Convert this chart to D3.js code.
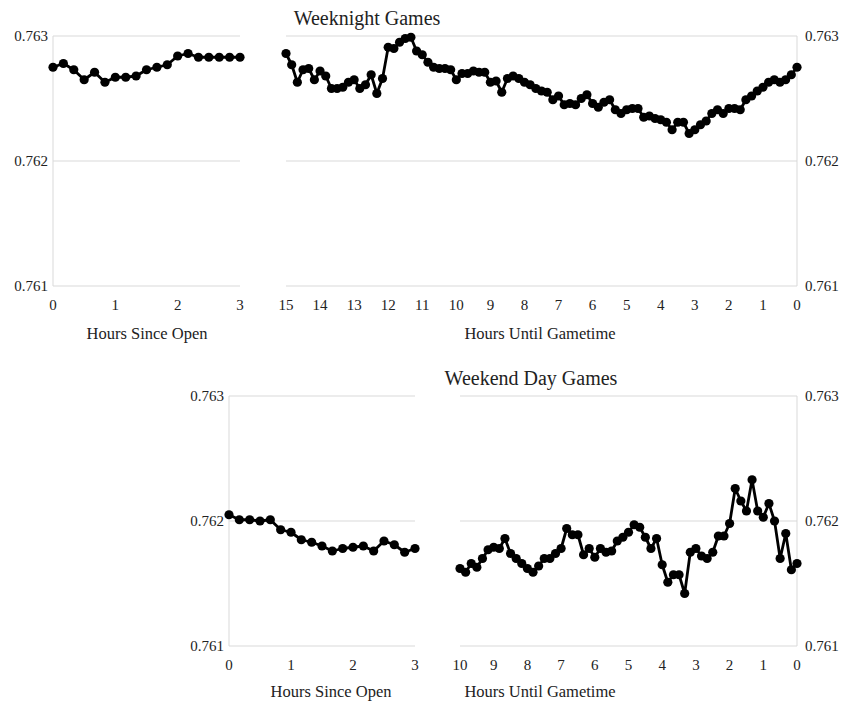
<!DOCTYPE html>
<html>
<head>
<meta charset="utf-8">
<script src="https://cdn.jsdelivr.net/npm/d3@7"></script>
<style>
  html, body { margin: 0; padding: 0; background: #fff; }
  svg text { font-family: "Liberation Serif", "Times New Roman", serif; fill: #222; }
</style>
</head>
<body>
<svg id="chart" width="846" height="702"></svg>
<script>
// ---- Data -------------------------------------------------------------
// Win-probability-style metric sampled every 10 minutes.
const yTicks = [0.761, 0.762, 0.763];

// Weeknight games
const weeknightOpenHours = d3.range(19).map(i => i / 6);          // 0 .. 3 h
const weeknightOpenValues = [
  0.76275, 0.76278, 0.76273, 0.76265, 0.76271, 0.76263, 0.76267, 0.76267,
  0.76268, 0.76273, 0.76275, 0.76277, 0.76284, 0.76286, 0.76283, 0.76283,
  0.76283, 0.76283, 0.76283
];
const weeknightGameHours = d3.range(91).map(i => 15 - i / 6);     // 15 .. 0 h
const weeknightGameValues = [
  0.76286, 0.76277, 0.76263, 0.76273, 0.76274, 0.76265, 0.76272, 0.76268,
  0.76258, 0.76258, 0.76259, 0.76263, 0.76265, 0.76258, 0.76261, 0.76269,
  0.76254, 0.76266, 0.76291, 0.76290, 0.76295, 0.76298, 0.76299, 0.76288,
  0.76285, 0.76279, 0.76275, 0.76274, 0.76274, 0.76273, 0.76265, 0.76270,
  0.76270, 0.76272, 0.76271, 0.76271, 0.76263, 0.76264, 0.76255, 0.76266,
  0.76268, 0.76266, 0.76263, 0.76261, 0.76258, 0.76256, 0.76255, 0.76249,
  0.76252, 0.76245, 0.76246, 0.76245, 0.76250, 0.76253, 0.76246, 0.76243,
  0.76247, 0.76249, 0.76241, 0.76238, 0.76241, 0.76242, 0.76242, 0.76235,
  0.76236, 0.76234, 0.76233, 0.76231, 0.76225, 0.76231, 0.76231, 0.76222,
  0.76225, 0.76229, 0.76232, 0.76238, 0.76241, 0.76238, 0.76242, 0.76242,
  0.76241, 0.76249, 0.76252, 0.76256, 0.76259, 0.76263, 0.76265, 0.76263,
  0.76265, 0.76269, 0.76275
];

// Weekend day games
const weekendOpenHours = d3.range(19).map(i => i / 6);            // 0 .. 3 h
const weekendOpenValues = [
  0.76205, 0.76201, 0.76201, 0.76200, 0.76201, 0.76193, 0.76191, 0.76185,
  0.76183, 0.76180, 0.76176, 0.76178, 0.76179, 0.76180, 0.76176, 0.76184,
  0.76181, 0.76175, 0.76178
];
const weekendGameHours = d3.range(61).map(i => 10 - i / 6);       // 10 .. 0 h
const weekendGameValues = [
  0.76162, 0.76159, 0.76166, 0.76163, 0.76170, 0.76177, 0.76179, 0.76178,
  0.76186, 0.76174, 0.76170, 0.76166, 0.76162, 0.76159, 0.76164, 0.76170,
  0.76170, 0.76174, 0.76178, 0.76194, 0.76189, 0.76189, 0.76173, 0.76178,
  0.76171, 0.76178, 0.76175, 0.76176, 0.76184, 0.76187, 0.76191, 0.76197,
  0.76195, 0.76187, 0.76178, 0.76186, 0.76165, 0.76151, 0.76157, 0.76157,
  0.76142, 0.76175, 0.76178, 0.76172, 0.76170, 0.76175, 0.76188, 0.76188,
  0.76198, 0.76226, 0.76216, 0.76208, 0.76233, 0.76208, 0.76203, 0.76214,
  0.76200, 0.76170, 0.76190, 0.76161, 0.76166
];

const openTicks = [0, 1, 2, 3];
const weeknightGameTicks = d3.range(15, -1, -1);
const weekendGameTicks = d3.range(10, -1, -1);

// ---- Drawing ----------------------------------------------------------
const svg = d3.select("#chart");
const GRID = "#d9d9d9";

function drawPanel({ x0, x1, yTop, yBottom, domainX, ticksX, hours, values,
                     axisSide, labelSide }) {
  const x = d3.scaleLinear().domain(domainX).range([x0, x1]);
  const y = d3.scaleLinear().domain([0.761, 0.763]).range([yBottom, yTop]);
  const g = svg.append("g");

  // horizontal gridlines
  g.selectAll("line.grid").data(yTicks).join("line")
    .attr("x1", x0).attr("x2", x1)
    .attr("y1", d => y(d)).attr("y2", d => y(d))
    .attr("stroke", GRID).attr("stroke-width", 1);

  // vertical axis line
  const ax = axisSide === "left" ? x0 : x1;
  g.append("line")
    .attr("x1", ax).attr("x2", ax)
    .attr("y1", yTop).attr("y2", yBottom)
    .attr("stroke", GRID).attr("stroke-width", 1);

  // y tick labels
  if (labelSide) {
    g.selectAll("text.ylab").data(yTicks).join("text")
      .attr("x", labelSide === "left" ? ax - 5 : ax + 8)
      .attr("y", d => y(d) + 5)
      .attr("text-anchor", labelSide === "left" ? "end" : "start")
      .attr("font-size", 15)
      .text(d3.format(".3f"));
  }

  // x tick labels
  g.selectAll("text.xlab").data(ticksX).join("text")
    .attr("x", d => x(d))
    .attr("y", yBottom + 24)
    .attr("text-anchor", "middle")
    .attr("font-size", 15)
    .text(d => d);

  const pts = hours.map((h, i) => [h, values[i]]);
  g.append("path")
    .datum(pts)
    .attr("fill", "none")
    .attr("stroke", "#000")
    .attr("stroke-width", 2.8)
    .attr("stroke-linejoin", "round")
    .attr("d", d3.line().x(d => x(d[0])).y(d => y(d[1])));

  g.selectAll("circle").data(pts).join("circle")
    .attr("cx", d => x(d[0]))
    .attr("cy", d => y(d[1]))
    .attr("r", 4.6)
    .attr("fill", "#000");
}

function label(txt, cx, by, size) {
  svg.append("text")
    .attr("x", cx).attr("y", by)
    .attr("text-anchor", "middle")
    .attr("font-size", size)
    .text(txt);
}

// Weeknight row
drawPanel({ x0: 53, x1: 240, yTop: 36, yBottom: 286, domainX: [0, 3],
            ticksX: openTicks, hours: weeknightOpenHours, values: weeknightOpenValues,
            axisSide: "left", labelSide: "left" });
drawPanel({ x0: 286, x1: 797, yTop: 36, yBottom: 286, domainX: [15, 0],
            ticksX: weeknightGameTicks, hours: weeknightGameHours, values: weeknightGameValues,
            axisSide: "right", labelSide: "right" });
label("Weeknight Games", 367, 25, 20);
label("Hours Since Open", 147, 339, 16.5);
label("Hours Until Gametime", 540, 339, 16.5);

// Weekend row
drawPanel({ x0: 229, x1: 415, yTop: 396, yBottom: 646, domainX: [0, 3],
            ticksX: openTicks, hours: weekendOpenHours, values: weekendOpenValues,
            axisSide: "left", labelSide: "left" });
drawPanel({ x0: 460, x1: 797, yTop: 396, yBottom: 646, domainX: [10, 0],
            ticksX: weekendGameTicks, hours: weekendGameHours, values: weekendGameValues,
            axisSide: "right", labelSide: "right" });
label("Weekend Day Games", 531, 385, 20);
label("Hours Since Open", 331, 697, 16.5);
label("Hours Until Gametime", 540, 697, 16.5);
</script>
</body>
</html>
